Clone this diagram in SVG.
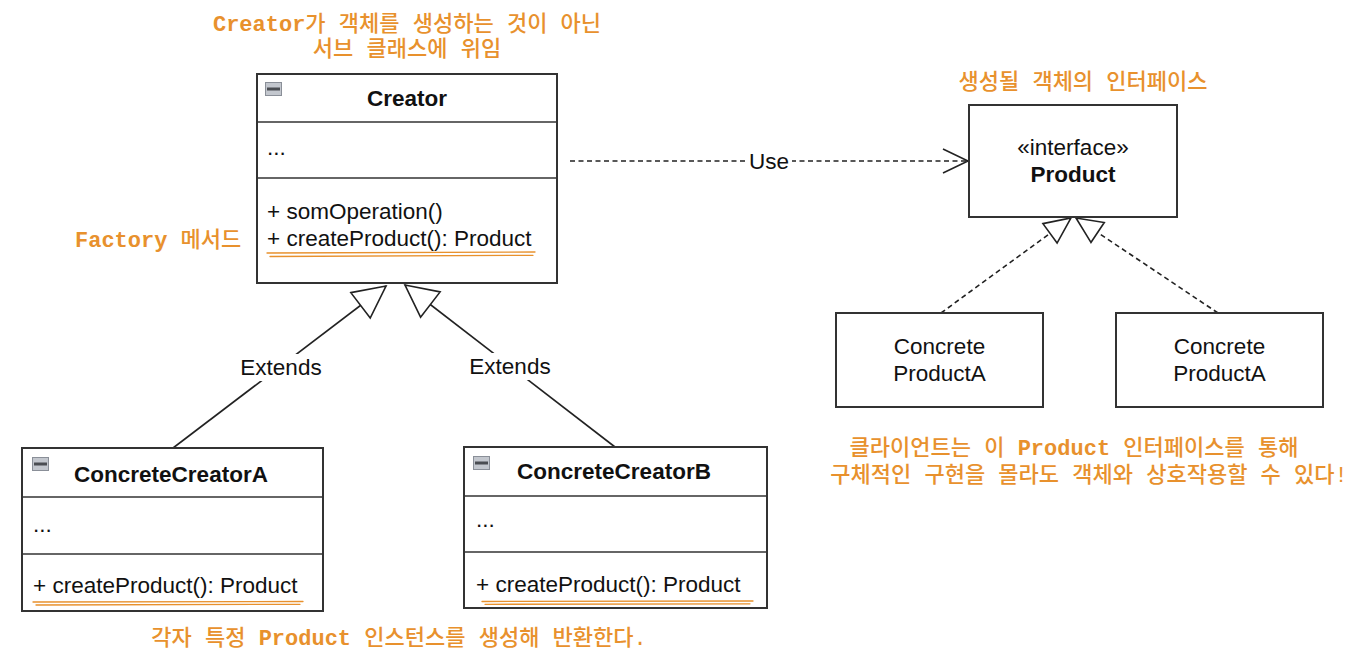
<svg xmlns="http://www.w3.org/2000/svg" width="1366" height="664" viewBox="0 0 1366 664">
<defs>
<style>
.box{fill:#fff;stroke:#333;stroke-width:2}
.sep{stroke:#333;stroke-width:1.6}
.t{font-family:"Liberation Sans",Arial,Helvetica,sans-serif;font-size:22.5px;fill:#111}
.b{font-weight:bold}
.m{text-anchor:middle}
.note{font-family:"Liberation Mono","Noto Sans CJK KR",monospace;font-size:22px;font-weight:500;fill:#E8912D}
.lat{font-size:22px;font-weight:bold}
.ul{fill:none;stroke:#E8912D;stroke-width:1.3;stroke-linecap:round}
.conn{fill:none;stroke:#222;stroke-width:1.6}
.dash{stroke-dasharray:5 3.5}
.icon{fill:#c3c7ce;stroke:#8a8f98;stroke-width:1}
.iconbar{fill:#4a4d52}
</style>
<marker id="triBig" viewBox="0 0 32 32" refX="32" refY="16" markerWidth="32" markerHeight="32" markerUnits="userSpaceOnUse" orient="auto" overflow="visible">
<path d="M0,0 L32,16 L0,32 Z" fill="#fff" stroke="#222" stroke-width="1.6" stroke-dasharray="none" stroke-linejoin="miter"/>
</marker>
<marker id="triSmall" viewBox="0 0 26 24" refX="26" refY="12" markerWidth="26" markerHeight="24" markerUnits="userSpaceOnUse" orient="auto" overflow="visible">
<path d="M0,0 L26,12 L0,24 Z" fill="#fff" stroke="#222" stroke-width="1.6" stroke-dasharray="none"/>
</marker>
</defs>
<rect width="1366" height="664" fill="#fff"/>

<g id="connectors">
<line class="conn" x1="173" y1="448" x2="386" y2="286" marker-end="url(#triBig)"/>
<line class="conn" x1="615" y1="447" x2="405" y2="285" marker-end="url(#triBig)"/>
<line class="conn dash" x1="570" y1="161" x2="967" y2="161"/>
<polyline class="conn" points="943,149 968,161 943,173"/>
<line class="conn dash" x1="941" y1="313" x2="1071" y2="218" marker-end="url(#triSmall)"/>
<line class="conn dash" x1="1218" y1="313" x2="1076" y2="218" marker-end="url(#triSmall)"/>
<rect x="238" y="354" width="86" height="27" fill="#fff"/>
<text class="t m" x="281" y="375">Extends</text>
<rect x="467" y="353" width="86" height="27" fill="#fff"/>
<text class="t m" x="510" y="374">Extends</text>
<rect x="746" y="148" width="46" height="26" fill="#fff"/>
<text class="t m" x="769" y="169">Use</text>
</g>

<g id="creator">
<rect class="box" x="257" y="74" width="300" height="209"/>
<line class="sep" x1="257" y1="122" x2="557" y2="122"/>
<line class="sep" x1="257" y1="178" x2="557" y2="178"/>
<rect class="icon" x="265.5" y="82.5" width="16" height="13"/>
<rect class="iconbar" x="267" y="87.5" width="13" height="3"/>
<text class="t b m" x="407" y="106">Creator</text>
<text class="t" x="267" y="155">...</text>
<text class="t" x="267" y="219">+ somOperation()</text>
<text class="t" x="267" y="246">+ createProduct(): Product</text>
<path class="ul" d="M267,253 L535,252"/>
<path class="ul" d="M270,256.5 L533,255.3"/>
</g>

<g id="concreteCreatorA">
<rect class="box" x="22" y="448" width="301" height="163"/>
<line class="sep" x1="22" y1="497" x2="323" y2="497"/>
<line class="sep" x1="22" y1="554" x2="323" y2="554"/>
<rect class="icon" x="32.5" y="457.5" width="16" height="13"/>
<rect class="iconbar" x="34" y="462.5" width="13" height="3"/>
<text class="t b m" x="171" y="482">ConcreteCreatorA</text>
<text class="t" x="33" y="532">...</text>
<text class="t" x="33" y="593">+ createProduct(): Product</text>
<path class="ul" d="M33,602 L303,601.5"/>
<path class="ul" d="M36,605 L300,604.3"/>
</g>

<g id="concreteCreatorB">
<rect class="box" x="464" y="447" width="303" height="161"/>
<line class="sep" x1="464" y1="496" x2="767" y2="496"/>
<line class="sep" x1="464" y1="552" x2="767" y2="552"/>
<rect class="icon" x="473.5" y="456.5" width="16" height="13"/>
<rect class="iconbar" x="475" y="461.5" width="13" height="3"/>
<text class="t b m" x="614" y="479">ConcreteCreatorB</text>
<text class="t" x="476" y="527">...</text>
<text class="t" x="476" y="592">+ createProduct(): Product</text>
<path class="ul" d="M482,601.5 L753,601"/>
<path class="ul" d="M485,604.3 L750,603.8"/>
</g>

<g id="product">
<rect class="box" x="969" y="105" width="208" height="112"/>
<text class="t m" x="1073" y="155">«interface»</text>
<text class="t b m" x="1073" y="182">Product</text>
</g>

<g id="concreteProductA1">
<rect class="box" x="836" y="313" width="207" height="94"/>
<text class="t m" x="939.5" y="354">Concrete</text>
<text class="t m" x="939.5" y="381">ProductA</text>
</g>

<g id="concreteProductA2">
<rect class="box" x="1116" y="313" width="207" height="94"/>
<text class="t m" x="1219.5" y="354">Concrete</text>
<text class="t m" x="1219.5" y="381">ProductA</text>
</g>

<g id="notes">
<text class="note m" x="407" y="31"><tspan class="lat">Creator</tspan>가 객체를 생성하는 것이 아닌</text>
<text class="note m" x="407" y="56">서브 클래스에 위임</text>
<text class="note" x="75" y="247"><tspan class="lat">Factory</tspan> 메서드</text>
<text class="note m" x="1083" y="89">생성될 객체의 인터페이스</text>
<text class="note m" x="1074" y="455">클라이언트는 이 <tspan class="lat">Product</tspan> 인터페이스를 통해</text>
<text class="note m" x="1089" y="482">구체적인 구현을 몰라도 객체와 상호작용할 수 있다!</text>
<text class="note m" x="399" y="645">각자 특정 <tspan class="lat">Product</tspan> 인스턴스를 생성해 반환한다.</text>
</g>
</svg>
